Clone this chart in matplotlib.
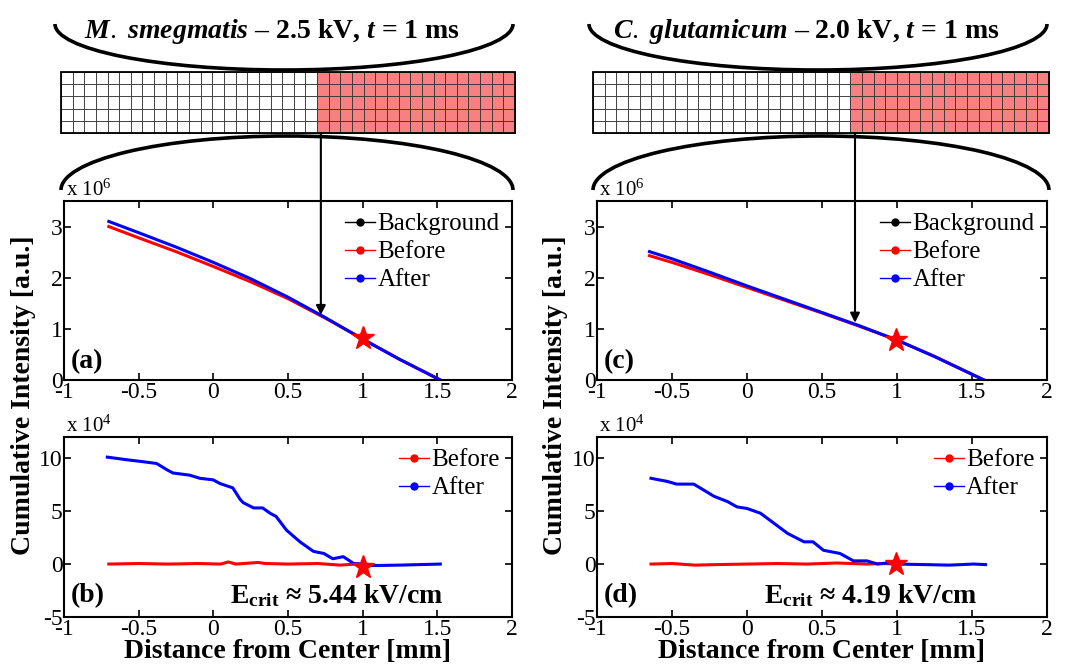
import matplotlib
matplotlib.use("Agg")
import matplotlib.pyplot as plt
from matplotlib.lines import Line2D
from matplotlib.patches import Rectangle, Arc
from matplotlib.transforms import blended_transform_factory

plt.rcParams['font.family'] = 'Liberation Serif'
plt.rcParams['mathtext.fontset'] = 'custom'
plt.rcParams['mathtext.rm'] = 'Liberation Serif'
plt.rcParams['mathtext.it'] = 'Liberation Serif:italic:bold'
plt.rcParams['mathtext.bf'] = 'Liberation Serif:bold'
plt.rcParams['axes.unicode_minus'] = False

# ---- data (cumulative intensity, top in 1e6, bottom in 1e4) ----
a_x = [-0.7, -0.5, -0.25, 0, 0.25, 0.5, 0.75, 1.0, 1.25, 1.52]
a_before = [3.0, 2.78, 2.51, 2.22, 1.92, 1.59, 1.21, 0.8, 0.4, 0.0]
a_after = [3.1, 2.88, 2.6, 2.3, 1.98, 1.62, 1.22, 0.8, 0.4, 0.0]

c_x = [-0.65, -0.5, -0.25, 0, 0.25, 0.5, 0.75, 1.0, 1.25, 1.58]
c_before = [2.43, 2.30, 2.06, 1.81, 1.56, 1.31, 1.05, 0.78, 0.46, 0.0]
c_after = [2.51, 2.37, 2.11, 1.84, 1.58, 1.32, 1.06, 0.78, 0.46, 0.0]

b_after_x = [-0.71, -0.58, -0.49, -0.38, -0.31, -0.27, -0.16, -0.09, 0.0, 0.045,
             0.13, 0.18, 0.2, 0.27, 0.33, 0.38, 0.42, 0.49, 0.58, 0.67, 0.74,
             0.8, 0.87, 0.94, 1.0, 1.03, 1.25, 1.52]
b_after = [10.1, 9.85, 9.7, 9.5, 8.9, 8.6, 8.4, 8.1, 7.95, 7.6,
           7.2, 6.1, 5.8, 5.3, 5.3, 4.8, 4.5, 3.2, 2.1, 1.2, 1.0,
           0.5, 0.7, 0.05, 0.0, -0.15, -0.1, 0.0]
b_before_x = [-0.7, -0.5, -0.3, -0.1, 0.05, 0.1, 0.15, 0.3, 0.35, 0.5, 0.7, 0.85, 0.95, 1.0]
b_before = [0, 0.05, 0, 0.05, 0, 0.2, 0, 0.15, 0.05, 0, 0.05, -0.1, 0, 0]

d_after_x = [-0.64, -0.53, -0.47, -0.355, -0.29, -0.22, -0.13, -0.067, 0.0, 0.09,
             0.18, 0.27, 0.38, 0.44, 0.51, 0.62, 0.71, 0.8, 0.87, 0.93, 1.0,
             1.18, 1.35, 1.51, 1.59]
d_after = [8.1, 7.8, 7.55, 7.55, 7.0, 6.4, 5.9, 5.4, 5.25, 4.8,
           3.85, 2.9, 2.1, 2.1, 1.3, 1.0, 0.3, 0.3, 0.0, 0.1, 0.0,
           -0.05, -0.1, 0.0, -0.05]
d_before_x = [-0.64, -0.5, -0.35, -0.2, 0.0, 0.2, 0.4, 0.6, 0.8, 0.9, 1.0]
d_before = [0, 0.05, -0.1, -0.05, 0, 0.05, 0, 0.1, 0, 0.05, 0]

star_top = [(1.0, 0.82), (0.99, 0.78)]
star_bot = [(1.0, -0.25), (0.99, 0.05)]
arrow_pt = [(0.72, 1.27), (0.72, 1.12)]
titles = [r'$M.\ smegmatis$ – 2.5 kV, $t$ = 1 ms', r'$C.\ glutamicum$ – 2.0 kV, $t$ = 1 ms']
ecrit = [r'E$_{\mathbf{crit}}$ ≈ 5.44 kV/cm', r'E$_{\mathbf{crit}}$ ≈ 4.19 kV/cm']
n_cols, n_white, n_rows = 39, 22, 5

W, H = 1077, 671
fig = plt.figure(figsize=(W / 100, H / 100), dpi=100)


def px_axes(left, top, right, bottom):
    return fig.add_axes([left / W, 1 - bottom / H, (right - left) / W, (bottom - top) / H])


def setup(ax, ylim, yticks, mult):
    ax.set_xlim(-1, 2)
    ax.set_xticks([-1, -0.5, 0, 0.5, 1, 1.5, 2])
    ax.set_xticklabels(['-1', '-0.5', '0', '0.5', '1', '1.5', '2'])
    ax.set_ylim(*ylim)
    ax.set_yticks(yticks)
    ax.tick_params(direction='in', top=True, right=True, labelsize=17,
                   length=5, width=1.2)
    ax.tick_params(axis='x', pad=1.5)
    ax.tick_params(axis='y', pad=1)
    for s in ax.spines.values():
        s.set_linewidth(1.5)
    ax.text(0.005, 1.0, r'x 10$^{%d}$' % mult, transform=ax.transAxes,
            fontsize=15, ha='left', va='bottom')


def proxy(c):
    return Line2D([], [], color=c, marker='o', ms=5, lw=1)


top_axes = [px_axes(64, 201, 512, 380), px_axes(597, 201, 1047, 380)]
bot_axes = [px_axes(64, 437, 512, 617), px_axes(597, 437, 1047, 617)]

tops = [(a_x, a_before, a_after), (c_x, c_before, c_after)]
bots = [(b_before_x, b_before, b_after_x, b_after), (d_before_x, d_before, d_after_x, d_after)]
leg_kw = dict(loc='upper right', frameon=False, fontsize=18, handlelength=1.2,
              handletextpad=0.1, labelspacing=0.22, borderaxespad=0.0,
              bbox_to_anchor=(0.995, 0.99))

for k in range(2):
    ax = top_axes[k]
    x, bef, aft = tops[k]
    ax.plot(x, bef, color='red', lw=2.2)
    ax.plot(x, aft, color='blue', lw=2.2)
    ax.plot(*star_top[k], marker='*', color='red', ms=17, mec='red')
    setup(ax, (0, 3.5), [0, 1, 2, 3], 6)
    ax.legend([proxy('black'), proxy('red'), proxy('blue')], ['Background', 'Before', 'After'],
              **leg_kw)
    ax.text(0.016, 0.1, '(%s)' % 'ac'[k], transform=ax.transAxes, fontsize=20,
            fontweight='bold', va='center')

    ax = bot_axes[k]
    bx, bb, ax_, aa = bots[k]
    ax.plot(bx, bb, color='red', lw=2.2)
    ax.plot(ax_, aa, color='blue', lw=2.2)
    ax.plot(*star_bot[k], marker='*', color='red', ms=17, mec='red')
    setup(ax, (-5, 12), [-5, 0, 5, 10], 4)
    ax.legend([proxy('red'), proxy('blue')], ['Before', 'After'], **leg_kw)
    ax.text(0.016, 0.12, '(%s)' % 'bd'[k], transform=ax.transAxes, fontsize=20,
            fontweight='bold', va='center')
    ax.text(0.846, 0.12, ecrit[k], transform=ax.transAxes, fontsize=20,
            fontweight='bold', va='center', ha='right')

# ylabels / xlabels
for xl, xc in [(24, 288), (556, 822)]:
    fig.text(xl / W, 1 - 395 / H, 'Cumulative Intensity [a.u.]', rotation=90,
             fontsize=20, fontweight='bold', ha='center', va='center')
    fig.text(xc / W, 1 - 652 / H, 'Distance from Center [mm]',
             fontsize=20, fontweight='bold', ha='center', va='center')

# overlay with brackets, grid and arrows (pixel coordinates)
ov = fig.add_axes([0, 0, 1, 1], zorder=5)
ov.set_xlim(0, W)
ov.set_ylim(H, 0)
ov.axis('off')

grids = [(61, 515), (593, 1049)]
top_arcs = [(284, 458), (818, 458)]
low_arcs = [(287, 452), (821, 456)]
title_x = [272, 806]
for k in range(2):
    g0, g1 = grids[k]
    cw = (g1 - g0) / n_cols
    ch = (133 - 72) / n_rows
    for i in range(n_cols):
        for j in range(n_rows):
            fc = 'white' if i < n_white else '#f78080'
            ov.add_patch(Rectangle((g0 + i * cw, 72 + j * ch), cw, ch, fc=fc,
                                   ec='#333333', lw=0.6))
    ov.add_patch(Rectangle((g0, 72), g1 - g0, 133 - 72, fill=False, ec='k', lw=1.3))
    cx, wd = top_arcs[k]
    ov.add_patch(Arc((cx, 24), wd, 92, theta1=0, theta2=180, lw=2.6, color='k'))
    cx, wd = low_arcs[k]
    ov.add_patch(Arc((cx, 190), wd, 108, theta1=180, theta2=360, lw=2.6, color='k'))
    ov.text(title_x[k], 32, titles[k], fontsize=20, fontweight='bold',
            ha='center', va='center')
    src = blended_transform_factory(top_axes[k].transData, ov.transData)
    ov.annotate('', xy=arrow_pt[k], xycoords=top_axes[k].transData,
                xytext=(arrow_pt[k][0], 133), textcoords=src,
                arrowprops=dict(arrowstyle='-|>', color='k', lw=1.5,
                                mutation_scale=14, shrinkA=0, shrinkB=0))

fig.savefig('out.png', dpi=100)
